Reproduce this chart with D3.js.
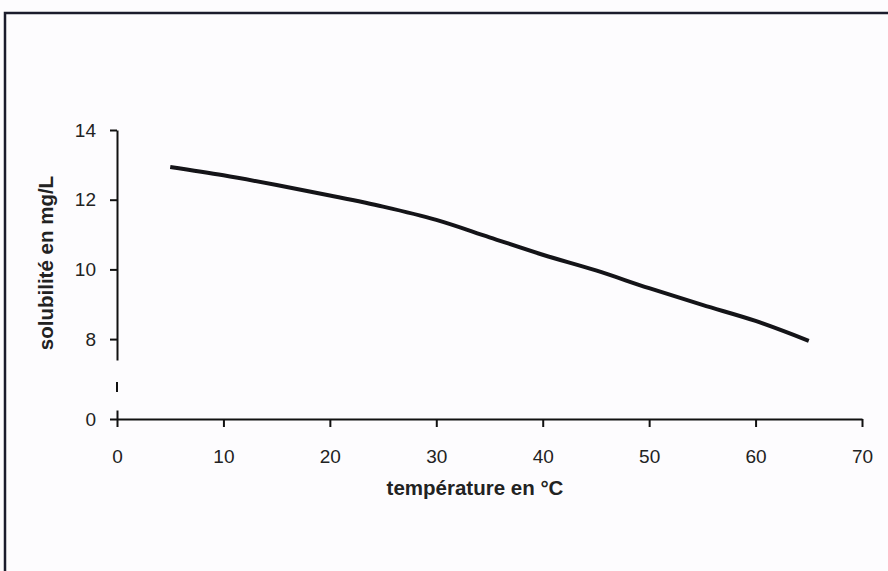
<!DOCTYPE html>
<html>
<head>
<meta charset="utf-8">
<script src="https://cdn.jsdelivr.net/npm/d3@7"></script>
<style>
  body { margin: 0; background: #fdfcfe; }
  svg { display: block; }
</style>
</head>
<body>
<svg></svg>
<script>
// data
var temperatures = [5, 10, 15, 20, 25, 30, 35, 40, 45, 50, 55, 60, 65]
var solubility = [12.94, 12.70, 12.42, 12.12, 11.80, 11.42, 10.92, 10.42, 9.97, 9.46, 8.98, 8.52, 7.95]
var xTicks = [0, 10, 20, 30, 40, 50, 60, 70]
var yTicks = [8, 10, 12, 14]
var yLowTicks = [0]

var svgWidth = 888, svgHeight = 571
var plotLeft = 117, plotRight = 862, plotTop = 130, plotBottom = 419
var fontFamily = 'Arial, "Liberation Sans", sans-serif'

var svg = d3.select('svg')
    .attr('width', svgWidth)
    .attr('height', svgHeight)

// outer frame (runs off the right and bottom edge)
svg.append('rect')
    .attr('x', 5).attr('y', 13)
    .attr('width', 920).attr('height', 600)
    .attr('fill', 'none')
    .attr('stroke', '#1b1c2c')
    .attr('stroke-width', 2.5)

var x = d3.scaleLinear().domain([0, 70]).range([plotLeft, plotRight])
// upper part of the broken y axis
var y = d3.scaleLinear().domain([7.4, 14]).range([360, plotTop])
// lower part, only the zero
var yLow = d3.scaleLinear().domain([0, 0.3]).range([plotBottom, plotBottom - 9])

var fmt = d3.format('d')

// x axis
svg.append('g')
    .attr('transform', 'translate(0,' + plotBottom + ')')
    .call(d3.axisBottom(x).tickValues(xTicks).tickFormat(fmt).tickSize(8).tickSizeOuter(0).tickPadding(23))

// y axis, upper part
svg.append('g')
    .attr('transform', 'translate(' + plotLeft + ',0)')
    .call(d3.axisLeft(y).tickValues(yTicks).tickFormat(fmt).tickSize(7).tickSizeOuter(0).tickPadding(14))

// y axis, lower part with the 0
svg.append('g')
    .attr('transform', 'translate(' + plotLeft + ',0)')
    .call(d3.axisLeft(yLow).tickValues(yLowTicks).tickFormat(fmt).tickSize(7).tickSizeOuter(0).tickPadding(14))

// little dash in the gap of the axis
svg.append('line')
    .attr('x1', plotLeft).attr('x2', plotLeft)
    .attr('y1', y(7.4) + 22).attr('y2', y(7.4) + 32)
    .attr('stroke', '#111').attr('stroke-width', 2)

svg.selectAll('.domain, .tick line')
    .attr('stroke', '#111')
    .attr('stroke-width', 2)
svg.selectAll('.tick text')
    .attr('font-family', fontFamily)
    .attr('font-size', 19)
    .attr('fill', '#222')

// the curve
var line = d3.line()
    .x(function(d, i) { return x(temperatures[i]) })
    .y(function(d) { return y(d) })
    .curve(d3.curveMonotoneX)

svg.append('path')
    .datum(solubility)
    .attr('d', line)
    .attr('fill', 'none')
    .attr('stroke', '#141418')
    .attr('stroke-width', 4)

// axis titles
svg.append('text')
    .attr('x', 475)
    .attr('y', 495)
    .attr('text-anchor', 'middle')
    .attr('font-family', fontFamily)
    .attr('font-weight', 'bold')
    .attr('font-size', 20.5)
    .attr('fill', '#222')
    .text('température en °C')

svg.append('text')
    .attr('transform', 'translate(53,263) rotate(-90)')
    .attr('text-anchor', 'middle')
    .attr('font-family', fontFamily)
    .attr('font-weight', 'bold')
    .attr('font-size', 20.5)
    .attr('fill', '#222')
    .text('solubilité en mg/L')
</script>
</body>
</html>
